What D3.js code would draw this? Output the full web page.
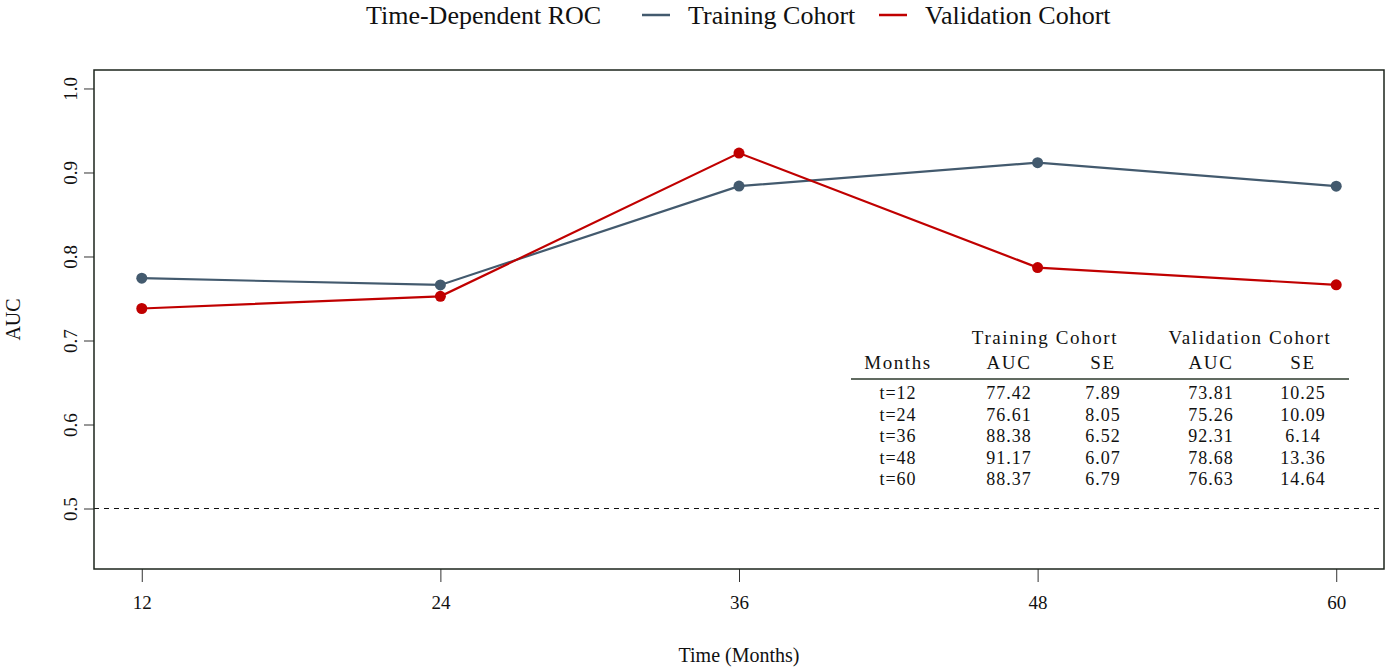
<!DOCTYPE html>
<html>
<head>
<meta charset="utf-8">
<script src="https://d3js.org/d3.v7.min.js"></script>
<style>
  body { margin: 0; background: #fff; }
  text { font-family: "Liberation Serif", "Times New Roman", serif; fill: #111; }
</style>
</head>
<body>
<div id="chart"></div>
<script>
  // data
  var months = [12, 24, 36, 48, 60];
  var trainAUC = [0.7742, 0.7661, 0.8838, 0.9117, 0.8837];
  var validAUC = [0.7381, 0.7526, 0.9231, 0.7868, 0.7663];
  var yTicks = [0.5, 0.6, 0.7, 0.8, 0.9, 1.0];

  // table
  var tableHead = ["Months", "AUC", "SE", "AUC", "SE"];
  var tableGroups = ["Training Cohort", "Validation Cohort"];
  var tableRows = [
    ["t=12", "77.42", "7.89", "73.81", "10.25"],
    ["t=24", "76.61", "8.05", "75.26", "10.09"],
    ["t=36", "88.38", "6.52", "92.31", "6.14"],
    ["t=48", "91.17", "6.07", "78.68", "13.36"],
    ["t=60", "88.37", "6.79", "76.63", "14.64"]
  ];

  var trainCol = "#435a6e";
  var validCol = "#c00000";

  var width = 1386, height = 667;
  var pL = 94, pR = 1384, pT = 70, pB = 569;

  var svg = d3.select("#chart").append("svg")
    .attr("width", width)
    .attr("height", height);

  // R style 4% padding
  var xr = 60 - 12, yr = 1.0 - 0.45;
  var x = d3.scaleLinear().domain([12 - xr * 0.04, 60 + xr * 0.04]).range([pL, pR]);
  var y = d3.scaleLinear().domain([0.45 - yr * 0.04, 1.0 + yr * 0.04]).range([pB, pT]);

  // reference line at 0.5
  svg.append("line")
    .attr("x1", pL).attr("x2", pR)
    .attr("y1", y(0.5)).attr("y2", y(0.5))
    .attr("stroke", "#111")
    .attr("stroke-width", 1)
    .attr("stroke-dasharray", "5,5");

  // axes
  var xAxis = svg.append("g")
    .attr("transform", "translate(0," + pB + ")")
    .call(d3.axisBottom(x).tickValues(months).tickSize(13).tickPadding(14).tickFormat(d3.format("d")));
  xAxis.select(".domain").remove();
  xAxis.selectAll("text").attr("font-size", 19).attr("font-family", "Liberation Serif").attr("fill", "#111");
  xAxis.selectAll("line").attr("stroke", "#333");

  var yAxis = svg.append("g")
    .attr("transform", "translate(" + pL + ",0)")
    .call(d3.axisLeft(y).tickValues(yTicks).tickSize(10).tickFormat(d3.format(".1f")));
  yAxis.select(".domain").remove();
  yAxis.selectAll("line").attr("stroke", "#333");
  yAxis.selectAll("text")
    .attr("font-size", 19)
    .attr("font-family", "Liberation Serif")
    .attr("fill", "#111")
    .attr("text-anchor", "middle")
    .attr("x", 0).attr("dy", 0)
    .attr("transform", "translate(-17,0) rotate(-90)");

  // box
  svg.append("rect")
    .attr("x", pL).attr("y", pT)
    .attr("width", pR - pL).attr("height", pB - pT)
    .attr("fill", "none")
    .attr("stroke", "#1c241c")
    .attr("stroke-width", 1.5);

  // lines and points
  var series = [
    { name: "Training Cohort", values: trainAUC, color: trainCol },
    { name: "Validation Cohort", values: validAUC, color: validCol }
  ];

  var line = d3.line()
    .x(function(d, i) { return x(months[i]); })
    .y(function(d) { return y(d); });

  series.forEach(function(s) {
    svg.append("path")
      .datum(s.values)
      .attr("d", line)
      .attr("fill", "none")
      .attr("stroke", s.color)
      .attr("stroke-width", 2.2);

    svg.selectAll(null)
      .data(s.values)
      .enter()
      .append("circle")
      .attr("cx", function(d, i) { return x(months[i]); })
      .attr("cy", function(d) { return y(d); })
      .attr("r", 5.5)
      .attr("fill", s.color);
  });

  // axis titles
  svg.append("text")
    .attr("x", (pL + pR) / 2).attr("y", 662)
    .attr("text-anchor", "middle")
    .attr("font-size", 20)
    .text("Time (Months)");

  svg.append("text")
    .attr("transform", "translate(20," + ((pT + pB) / 2) + ") rotate(-90)")
    .attr("text-anchor", "middle")
    .attr("font-size", 20)
    .text("AUC");

  // legend on top
  svg.append("text")
    .attr("x", 366).attr("y", 24)
    .attr("font-size", 26)
    .text("Time-Dependent ROC");

  var legX = [642, 879];
  series.forEach(function(s, i) {
    svg.append("line")
      .attr("x1", legX[i]).attr("x2", legX[i] + 28)
      .attr("y1", 15).attr("y2", 15)
      .attr("stroke", s.color)
      .attr("stroke-width", 2.5);
    svg.append("text")
      .attr("x", legX[i] + 46).attr("y", 24)
      .attr("font-size", 26)
      .text(s.name);
  });

  // AUC table
  var colX = [898, 1009, 1103, 1211, 1303];
  var groupX = [1045, 1250];
  var tbl = svg.append("g");

  tbl.selectAll(".grp")
    .data(tableGroups)
    .enter()
    .append("text")
    .attr("x", function(d, i) { return groupX[i]; })
    .attr("y", 344)
    .attr("text-anchor", "middle")
    .attr("font-size", 19)
    .attr("letter-spacing", 1.6)
    .text(function(d) { return d; });

  tbl.selectAll(".hd")
    .data(tableHead)
    .enter()
    .append("text")
    .attr("x", function(d, i) { return colX[i]; })
    .attr("y", 369)
    .attr("text-anchor", "middle")
    .attr("font-size", 19)
    .attr("letter-spacing", 1.6)
    .text(function(d) { return d; });

  tbl.append("line")
    .attr("x1", 851).attr("x2", 1349)
    .attr("y1", 379).attr("y2", 379)
    .attr("stroke", "#2c3a2c")
    .attr("stroke-width", 1.5);

  tableRows.forEach(function(row, r) {
    tbl.selectAll(null)
      .data(row)
      .enter()
      .append("text")
      .attr("x", function(d, i) { return colX[i]; })
      .attr("y", 399 + r * 21.5)
      .attr("text-anchor", "middle")
      .attr("font-size", 18)
      .attr("letter-spacing", 1)
      .text(function(d) { return d; });
  });
</script>
</body>
</html>
